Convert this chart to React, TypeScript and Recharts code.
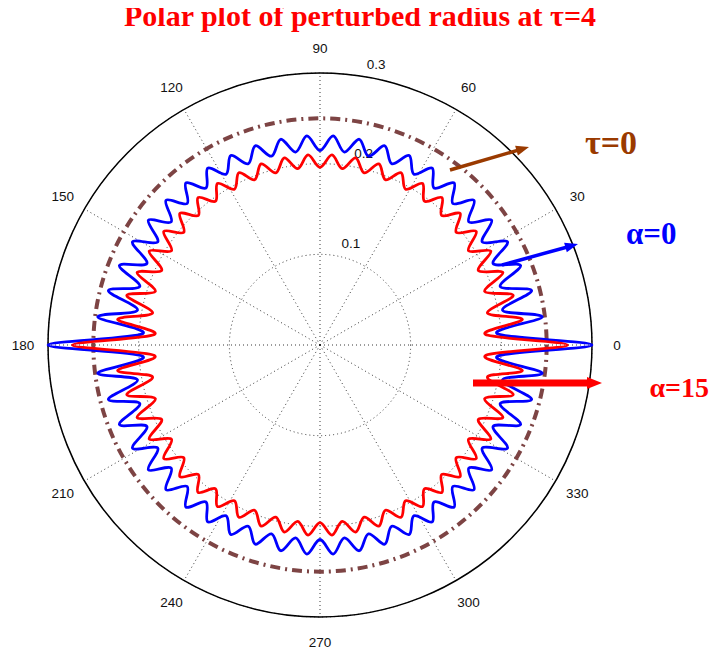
import React from "react";
import { RadarChart, Radar, PolarGrid, PolarAngleAxis, PolarRadiusAxis } from "recharts";

const W = 703;
const H = 640;
const CX = 312;
const CY = 337;
const OUTER = 272;

// angle labels every 30 degrees (MATLAB polar)
const ANGLE_LABELS = ["0", "30", "60", "90", "120", "150", "180", "210", "240", "270", "300", "330"];
const RADIUS_DOMAIN = [0, 0.3];
const RADIUS_TICKS = [0, 0.1, 0.2, 0.3];

// unperturbed radius at tau=0
const TAU0_R = 0.25;

// perturbed radius, one value per extremum (every 3.6 deg, starting at 0 deg, counter-clockwise)
const ALPHA0_R = [
  0.300, 0.196, 0.247, 0.205, 0.241, 0.209, 0.238, 0.211, 0.236, 0.212,
  0.234, 0.213, 0.233, 0.214, 0.232, 0.214, 0.231, 0.215, 0.231, 0.215,
  0.231, 0.215, 0.231, 0.2145, 0.231, 0.2145, 0.231, 0.2145, 0.231, 0.215,
  0.231, 0.215, 0.231, 0.215, 0.231, 0.214, 0.232, 0.214, 0.233, 0.213,
  0.234, 0.212, 0.236, 0.211, 0.238, 0.209, 0.241, 0.205, 0.247, 0.196,
  0.300, 0.196, 0.247, 0.205, 0.241, 0.209, 0.238, 0.211, 0.236, 0.212,
  0.234, 0.213, 0.233, 0.214, 0.232, 0.214, 0.231, 0.215, 0.231, 0.215,
  0.231, 0.215, 0.231, 0.2145, 0.231, 0.2145, 0.231, 0.2145, 0.231, 0.215,
  0.231, 0.215, 0.231, 0.215, 0.231, 0.214, 0.232, 0.214, 0.233, 0.213,
  0.234, 0.212, 0.236, 0.211, 0.238, 0.209, 0.241, 0.205, 0.247, 0.196,
];

const ALPHA15_R = [
  0.273, 0.183, 0.225, 0.188, 0.220, 0.191, 0.217, 0.193, 0.215, 0.194,
  0.213, 0.195, 0.212, 0.196, 0.211, 0.196, 0.211, 0.196, 0.210, 0.196,
  0.210, 0.196, 0.210, 0.196, 0.210, 0.196, 0.210, 0.196, 0.210, 0.196,
  0.210, 0.196, 0.210, 0.196, 0.211, 0.196, 0.211, 0.196, 0.212, 0.195,
  0.213, 0.194, 0.215, 0.193, 0.217, 0.191, 0.220, 0.188, 0.225, 0.183,
  0.273, 0.183, 0.225, 0.188, 0.220, 0.191, 0.217, 0.193, 0.215, 0.194,
  0.213, 0.195, 0.212, 0.196, 0.211, 0.196, 0.211, 0.196, 0.210, 0.196,
  0.210, 0.196, 0.210, 0.196, 0.210, 0.196, 0.210, 0.196, 0.210, 0.196,
  0.210, 0.196, 0.210, 0.196, 0.211, 0.196, 0.211, 0.196, 0.212, 0.195,
  0.213, 0.194, 0.215, 0.193, 0.217, 0.191, 0.220, 0.188, 0.225, 0.183,
];

const BLUE = "#0000FF";
const RED = "#FF0000";
const DASH_BROWN = "#7D4444";
const ARROW_BROWN = "#9A3A00";
const SANS = "'Liberation Sans', Arial, Helvetica, sans-serif";
const SERIF = "'Liberation Serif', 'Times New Roman', serif";

const gridData = ANGLE_LABELS.map((a) => ({ angle: a, tau0: TAU0_R }));
const curveData = ALPHA0_R.map((v, i) => ({ k: i, a0: v, a15: ALPHA15_R[i] }));

// recharts puts full-circle category ticks one band before the start angle,
// and radar points one band after it, so shift each chart by one band
const GRID_STEP = 360 / ANGLE_LABELS.length;
const CURVE_STEP = 360 / ALPHA0_R.length;

type Pt = { x: number; y: number };

// closed Catmull-Rom through the projected points
function closedSpline(pts: Pt[]) {
  const n = pts.length;
  if (!n) return "";
  let d = `M${pts[0].x},${pts[0].y}`;
  for (let i = 0; i < n; i++) {
    const p0 = pts[(i - 1 + n) % n];
    const p1 = pts[i];
    const p2 = pts[(i + 1) % n];
    const p3 = pts[(i + 2) % n];
    const c1x = p1.x + (p2.x - p0.x) / 6;
    const c1y = p1.y + (p2.y - p0.y) / 6;
    const c2x = p2.x - (p3.x - p1.x) / 6;
    const c2y = p2.y - (p3.y - p1.y) / 6;
    d += `C${c1x},${c1y} ${c2x},${c2y} ${p2.x},${p2.y}`;
  }
  return d + "Z";
}

function curveShape(color: string) {
  return (props: any) => (
    <path
      d={closedSpline(props.points || [])}
      fill="none"
      stroke={color}
      strokeWidth={2.8}
      strokeLinejoin="round"
    />
  );
}

function circleShape(props: any) {
  const pts: Pt[] = props.points || [];
  if (!pts.length) return <g />;
  const cx = pts.reduce((s, p) => s + p.x, 0) / pts.length;
  const cy = pts.reduce((s, p) => s + p.y, 0) / pts.length;
  const r = Math.hypot(pts[0].x - cx, pts[0].y - cy);
  return (
    <circle
      cx={cx}
      cy={cy}
      r={r}
      fill="none"
      stroke={DASH_BROWN}
      strokeWidth={4}
      strokeDasharray="10 5 2 5"
    />
  );
}

function AngleTick(props: any) {
  const { x, y, payload } = props;
  return (
    <text x={x} y={y} textAnchor="middle" dominantBaseline="central" fontFamily={SANS} fontSize={13.5} fill="#111">
      {payload.value}
    </text>
  );
}

function RadiusTick(props: any) {
  const { x, y, payload } = props;
  if (!payload.value) return <g />;
  return (
    <text x={x + 9} y={y - 7} textAnchor="start" fontFamily={SANS} fontSize={13.5} fill="#111">
      {payload.value}
    </text>
  );
}

function Arrow({ x1, y1, x2, y2, color, width, head, half }: any) {
  const dx = x2 - x1;
  const dy = y2 - y1;
  const len = Math.hypot(dx, dy);
  const ux = dx / len;
  const uy = dy / len;
  const bx = x2 - ux * head;
  const by = y2 - uy * head;
  const pts = `${x2},${y2} ${bx - uy * half},${by + ux * half} ${bx + uy * half},${by - ux * half}`;
  return (
    <g>
      <line x1={x1} y1={y1} x2={bx + ux * 1} y2={by + uy * 1} stroke={color} strokeWidth={width} />
      <polygon points={pts} fill={color} />
    </g>
  );
}

const layer: React.CSSProperties = { position: "absolute", left: 0, top: 0 };

export default function App() {
  return (
    <div style={{ position: "relative", width: W, height: H }}>
      <style>{`.recharts-surface { overflow: visible; }`}</style>
      <div style={layer}>
        <RadarChart
          width={W}
          height={H}
          data={gridData}
          cx={CX}
          cy={CY}
          outerRadius={OUTER}
          innerRadius={0}
          startAngle={GRID_STEP}
          endAngle={360 + GRID_STEP}
          margin={{ top: 0, right: 0, bottom: 0, left: 0 }}
        >
          <PolarGrid gridType="circle" stroke="#222" strokeWidth={0.9} strokeDasharray="1 3" />
          <PolarAngleAxis
            dataKey="angle"
            tick={<AngleTick />}
            tickLine={false}
            tickSize={25}
            axisLineType="circle"
            axisLine={{ stroke: "#000", strokeWidth: 1.5 }}
          />
          <PolarRadiusAxis
            angle={82}
            domain={RADIUS_DOMAIN}
            ticks={RADIUS_TICKS}
            tickCount={4}
            axisLine={false}
            tickLine={false}
            tick={<RadiusTick />}
          />
          <Radar dataKey="tau0" shape={circleShape} isAnimationActive={false} />
        </RadarChart>
      </div>
      <div style={layer}>
        <RadarChart
          width={W}
          height={H}
          data={curveData}
          cx={CX}
          cy={CY}
          outerRadius={OUTER}
          innerRadius={0}
          startAngle={-CURVE_STEP}
          endAngle={360 - CURVE_STEP}
          margin={{ top: 0, right: 0, bottom: 0, left: 0 }}
        >
          <PolarAngleAxis dataKey="k" tick={false} tickLine={false} axisLine={false} />
          <PolarRadiusAxis domain={RADIUS_DOMAIN} tick={false} tickLine={false} axisLine={false} />
          <Radar dataKey="a0" shape={curveShape(BLUE)} isAnimationActive={false} />
          <Radar dataKey="a15" shape={curveShape(RED)} isAnimationActive={false} />
        </RadarChart>
      </div>
      <svg width={W} height={H} style={{ ...layer, pointerEvents: "none", overflow: "visible" }}>
        <text x={352} y={18} textAnchor="middle" fontFamily={SERIF} fontWeight="bold" fontSize={30} fill={RED}>
          Polar plot of perturbed radius at τ=4
        </text>
        <Arrow x1={442} y1={162} x2={521} y2={139} color={ARROW_BROWN} width={3.5} head={13} half={5} />
        <Arrow x1={494} y1={257} x2={570} y2={236} color={BLUE} width={3.5} head={13} half={5} />
        <Arrow x1={465} y1={375} x2={594} y2={375} color={RED} width={7} head={15} half={6} />
        <text x={577} y={146} fontFamily={SERIF} fontWeight="bold" fontSize={34} fill={ARROW_BROWN}>
          τ=0
        </text>
        <text x={618} y={236} fontFamily={SERIF} fontWeight="bold" fontSize={31} fill={BLUE}>
          α=0
        </text>
        <text x={701} y={389} textAnchor="end" fontFamily={SERIF} fontWeight="bold" fontSize={28} fill={RED}>
          α=15
        </text>
      </svg>
    </div>
  );
}
